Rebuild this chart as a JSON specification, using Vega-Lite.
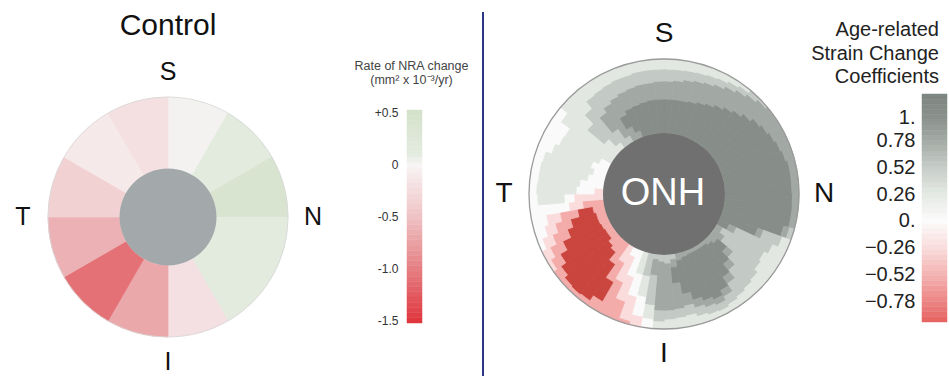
{
"$schema": "https://vega.github.io/schema/vega-lite/v6.json",
"padding": 0,
"background": "#ffffff",
"config": {"view": {"stroke": null}, "font": "Liberation Sans", "text": {"font": "Liberation Sans"}},
"bounds": "flush",
"spacing": 407,
"hconcat": [
{"bounds": "flush", "spacing": 0, "vconcat": [
 {"width": 336, "height": 56, "data": {"values": [{"t": "Control"}]},
  "mark": {"type": "text", "fontSize": 30, "color": "#111111", "baseline": "alphabetic", "dy": 7},
  "encoding": {"text": {"field": "t"}}},
 {"width": 336, "height": 322, "layer": [
  {"data": {"values": [{"a":15,"v":0.02},{"a":45,"v":0.12},{"a":75,"v":0.4},{"a":105,"v":0.13},{"a":135,"v":0.13},{"a":165,"v":-0.2},{"a":195,"v":-0.7},{"a":225,"v":-1.1},{"a":255,"v":-0.63},{"a":285,"v":-0.36},{"a":315,"v":-0.11},{"a":345,"v":-0.21}]},
   "transform": [{"bin": {"step": 30, "extent": [0, 360], "nice": false}, "field": "a", "as": ["a0", "a1"]}],
   "mark": {"type": "arc", "strokeWidth": 0.7},
   "encoding": {
    "theta": {"field": "a0", "type": "quantitative", "stack": null, "scale": {"domain": [0, 360], "range": [0, 6.283185307179586]}},
    "theta2": {"field": "a1"},
    "radius": {"datum": 48.5, "type": "quantitative", "scale": {"type": "linear", "domain": [0, 120], "range": [0, 120], "zero": true, "nice": false}},
    "radius2": {"datum": 120},
    "color": {"field": "v", "type": "quantitative", "legend": null, "scale": {"domain": [-1.5, -1, -0.5, 0, 0.1, 0.5], "range": ["#e0373f", "#e57f83", "#efc3c5", "#f8f4f5", "#e4ebe0", "#d4e2cb"], "interpolate": "rgb"}},
    "stroke": {"field": "v", "type": "quantitative", "legend": null, "scale": {"domain": [-1.5, -1, -0.5, 0, 0.1, 0.5], "range": ["#e0373f", "#e57f83", "#efc3c5", "#f8f4f5", "#e4ebe0", "#d4e2cb"], "interpolate": "rgb"}}
   }},
  {"data": {"values": [{}]},
   "mark": {"type": "arc", "filled": false, "stroke": "#d8d8d8", "strokeWidth": 0.8},
   "encoding": {
    "theta": {"datum": 0, "type": "quantitative", "scale": {"domain": [0, 360], "range": [0, 6.283185307179586]}},
    "theta2": {"datum": 360},
    "radius": {"datum": 120, "type": "quantitative", "scale": {"type": "linear", "domain": [0, 120], "range": [0, 120], "zero": true, "nice": false}}
   }},
  {"data": {"values": [{}]},
   "mark": {"type": "arc", "fill": "#a3a9ab"},
   "encoding": {
    "theta": {"datum": 0, "type": "quantitative", "scale": {"domain": [0, 360], "range": [0, 6.283185307179586]}},
    "theta2": {"datum": 360},
    "radius": {"datum": 48.5, "type": "quantitative", "scale": {"type": "linear", "domain": [0, 120], "range": [0, 120], "zero": true, "nice": false}}
   }},
  {"data": {"values": [{"lab": "S", "ang": 0}, {"lab": "N", "ang": 90}, {"lab": "I", "ang": 180}, {"lab": "T", "ang": 270}]},
   "mark": {"type": "text", "fontSize": 25, "color": "#111111", "align": "center", "baseline": "middle"},
   "encoding": {
    "theta": {"field": "ang", "type": "quantitative", "stack": null, "scale": {"domain": [0, 360], "range": [0, 6.283185307179586]}},
    "radius": {"datum": 145, "type": "quantitative", "scale": {"type": "linear", "domain": [0, 120], "range": [0, 120], "zero": true, "nice": false}},
    "text": {"field": "lab"}
   }}
 ]}
]},
{"bounds": "flush", "spacing": 76, "hconcat": [
 {"bounds": "flush", "spacing": 0, "vconcat": [
  {"width": 15, "height": 110, "data": {"values": [{"t": ["Rate of NRA change", "(mm² x 10⁻³/yr)"]}]},
   "mark": {"type": "text", "fontSize": 12.5, "lineHeight": 14, "color": "#444444", "baseline": "alphabetic", "dy": 15, "dx": -3},
   "encoding": {"text": {"field": "t"}}},
  {"width": 15, "height": 213,
   "data": {"values": [{"v":-1.5},{"v":-1.45},{"v":-1.4},{"v":-1.35},{"v":-1.3},{"v":-1.25},{"v":-1.2},{"v":-1.15},{"v":-1.1},{"v":-1.05},{"v":-1},{"v":-0.95},{"v":-0.9},{"v":-0.85},{"v":-0.8},{"v":-0.75},{"v":-0.7},{"v":-0.65},{"v":-0.6},{"v":-0.55},{"v":-0.5},{"v":-0.45},{"v":-0.4},{"v":-0.35},{"v":-0.3},{"v":-0.25},{"v":-0.2},{"v":-0.15},{"v":-0.1},{"v":-0.05},{"v":0},{"v":0.05},{"v":0.1},{"v":0.15},{"v":0.2},{"v":0.25},{"v":0.3},{"v":0.35},{"v":0.4},{"v":0.45},{"v":0.5}]},
   "transform": [{"bin": {"step": 0.05, "extent": [-1.525, 0.525], "nice": false}, "field": "v", "as": ["v0", "v1"]}],
   "mark": {"type": "rect", "strokeWidth": 0.5},
   "encoding": {
    "y": {"field": "v0", "type": "quantitative", "scale": {"domain": [-1.525, 0.525], "nice": false, "zero": false},
      "axis": {"orient": "left", "values": [0.5, 0, -0.5, -1, -1.5], "ticks": false, "domain": false, "grid": false, "title": null, "labelFontSize": 12, "labelColor": "#333333", "labelPadding": 9, "labelFlush": false, "labelOverlap": false,
        "labelExpr": "datum.value > 0 ? '+' + format(datum.value, '.1f') : (datum.value == 0 ? '0' : '-' + format(-datum.value, '.1f'))"}},
    "y2": {"field": "v1"},
    "color": {"field": "v", "type": "quantitative", "legend": null, "scale": {"domain": [-1.5, -1, -0.5, 0, 0.1, 0.5], "range": ["#e0373f", "#e57f83", "#efc3c5", "#f8f4f5", "#e4ebe0", "#d4e2cb"], "interpolate": "rgb"}},
    "stroke": {"field": "v", "type": "quantitative", "legend": null, "scale": {"domain": [-1.5, -1, -0.5, 0, 0.1, 0.5], "range": ["#e0373f", "#e57f83", "#efc3c5", "#f8f4f5", "#e4ebe0", "#d4e2cb"], "interpolate": "rgb"}}
   }}
 ]},
 {"bounds": "flush", "spacing": 439, "hconcat": [
  {"bounds": "flush", "spacing": 0, "vconcat": [
   {"width": 362, "height": 12, "data": {"values": [{"t": ""}]}, "mark": {"type": "text"}, "encoding": {"text": {"field": "t"}}},
   {"width": 362, "height": 364, "layer": [
    {"data": {"values": [
{"a":2.5,"lo":61,"hi":95,"v":0.9},{"a":2.5,"lo":95,"hi":113,"v":0.65},{"a":2.5,"lo":113,"hi":125,"v":0.39},{"a":2.5,"lo":125,"hi":135,"v":0.13},
{"a":7.5,"lo":61,"hi":95,"v":0.9},{"a":7.5,"lo":95,"hi":114,"v":0.65},{"a":7.5,"lo":114,"hi":125,"v":0.39},{"a":7.5,"lo":125,"hi":135,"v":0.13},
{"a":12.5,"lo":61,"hi":95,"v":0.9},{"a":12.5,"lo":95,"hi":116,"v":0.65},{"a":12.5,"lo":116,"hi":125.5,"v":0.39},{"a":12.5,"lo":125.5,"hi":135,"v":0.13},
{"a":17.5,"lo":61,"hi":96,"v":0.9},{"a":17.5,"lo":96,"hi":117.5,"v":0.65},{"a":17.5,"lo":117.5,"hi":126,"v":0.39},{"a":17.5,"lo":126,"hi":135,"v":0.13},
{"a":22.5,"lo":61,"hi":98,"v":0.9},{"a":22.5,"lo":98,"hi":119,"v":0.65},{"a":22.5,"lo":119,"hi":127,"v":0.39},{"a":22.5,"lo":127,"hi":135,"v":0.13},
{"a":27.5,"lo":61,"hi":100,"v":0.9},{"a":27.5,"lo":100,"hi":121,"v":0.65},{"a":27.5,"lo":121,"hi":128,"v":0.39},{"a":27.5,"lo":128,"hi":135,"v":0.13},
{"a":32.5,"lo":61,"hi":103,"v":0.9},{"a":32.5,"lo":103,"hi":124,"v":0.65},{"a":32.5,"lo":124,"hi":130,"v":0.39},{"a":32.5,"lo":130,"hi":135,"v":0.13},
{"a":37.5,"lo":61,"hi":106,"v":0.9},{"a":37.5,"lo":106,"hi":127,"v":0.65},{"a":37.5,"lo":127,"hi":132,"v":0.39},{"a":37.5,"lo":132,"hi":135,"v":0.13},
{"a":42.5,"lo":61,"hi":109,"v":0.9},{"a":42.5,"lo":109,"hi":130,"v":0.65},{"a":42.5,"lo":130,"hi":135,"v":0.39},
{"a":47.5,"lo":61,"hi":113,"v":0.9},{"a":47.5,"lo":113,"hi":133,"v":0.65},{"a":47.5,"lo":133,"hi":135,"v":0.39},
{"a":52.5,"lo":61,"hi":117,"v":0.9},{"a":52.5,"lo":117,"hi":135,"v":0.65},
{"a":57.5,"lo":61,"hi":119.5,"v":0.9},{"a":57.5,"lo":119.5,"hi":135,"v":0.65},
{"a":62.5,"lo":61,"hi":122,"v":0.9},{"a":62.5,"lo":122,"hi":135,"v":0.65},
{"a":67.5,"lo":61,"hi":124,"v":0.9},{"a":67.5,"lo":124,"hi":135,"v":0.65},
{"a":72.5,"lo":61,"hi":126,"v":0.9},{"a":72.5,"lo":126,"hi":135,"v":0.65},
{"a":77.5,"lo":61,"hi":128,"v":0.9},{"a":77.5,"lo":128,"hi":135,"v":0.65},
{"a":82.5,"lo":61,"hi":128,"v":0.9},{"a":82.5,"lo":128,"hi":135,"v":0.65},
{"a":87.5,"lo":61,"hi":128,"v":0.9},{"a":87.5,"lo":128,"hi":135,"v":0.65},
{"a":92.5,"lo":61,"hi":128.5,"v":0.9},{"a":92.5,"lo":128.5,"hi":135,"v":0.65},
{"a":97.5,"lo":61,"hi":129,"v":0.9},{"a":97.5,"lo":129,"hi":135,"v":0.65},
{"a":102.5,"lo":61,"hi":129,"v":0.9},{"a":102.5,"lo":129,"hi":135,"v":0.65},
{"a":107.5,"lo":61,"hi":124,"v":0.9},{"a":107.5,"lo":124,"hi":130,"v":0.65},{"a":107.5,"lo":130,"hi":135,"v":0.39},
{"a":112.5,"lo":61,"hi":100,"v":0.9},{"a":112.5,"lo":100,"hi":106,"v":0.65},{"a":112.5,"lo":106,"hi":126,"v":0.39},{"a":112.5,"lo":126,"hi":135,"v":0.13},
{"a":117.5,"lo":61,"hi":72,"v":0.9},{"a":117.5,"lo":72,"hi":80,"v":0.65},{"a":117.5,"lo":80,"hi":120,"v":0.39},{"a":117.5,"lo":120,"hi":135,"v":0.13},
{"a":122.5,"lo":61,"hi":68,"v":0.65},{"a":122.5,"lo":68,"hi":116,"v":0.39},{"a":122.5,"lo":116,"hi":135,"v":0.13},
{"a":127.5,"lo":61,"hi":74,"v":0.65},{"a":127.5,"lo":74,"hi":118,"v":0.39},{"a":127.5,"lo":118,"hi":135,"v":0.13},
{"a":132.5,"lo":61,"hi":70,"v":0.65},{"a":132.5,"lo":70,"hi":82,"v":0.9},{"a":132.5,"lo":82,"hi":90,"v":0.65},{"a":132.5,"lo":90,"hi":122,"v":0.39},{"a":132.5,"lo":122,"hi":135,"v":0.13},
{"a":137.5,"lo":61,"hi":67,"v":0.65},{"a":137.5,"lo":67,"hi":92,"v":0.9},{"a":137.5,"lo":92,"hi":100,"v":0.65},{"a":137.5,"lo":100,"hi":124,"v":0.39},{"a":137.5,"lo":124,"hi":135,"v":0.13},
{"a":142.5,"lo":61,"hi":65,"v":0.65},{"a":142.5,"lo":65,"hi":102,"v":0.9},{"a":142.5,"lo":102,"hi":110,"v":0.65},{"a":142.5,"lo":110,"hi":126,"v":0.39},{"a":142.5,"lo":126,"hi":135,"v":0.13},
{"a":147.5,"lo":61,"hi":65,"v":0.65},{"a":147.5,"lo":65,"hi":112,"v":0.9},{"a":147.5,"lo":112,"hi":119,"v":0.65},{"a":147.5,"lo":119,"hi":128,"v":0.39},{"a":147.5,"lo":128,"hi":135,"v":0.13},
{"a":152.5,"lo":61,"hi":65,"v":0.65},{"a":152.5,"lo":65,"hi":117,"v":0.9},{"a":152.5,"lo":117,"hi":123,"v":0.65},{"a":152.5,"lo":123,"hi":130,"v":0.39},{"a":152.5,"lo":130,"hi":135,"v":0.13},
{"a":157.5,"lo":61,"hi":65,"v":0.65},{"a":157.5,"lo":65,"hi":114,"v":0.9},{"a":157.5,"lo":114,"hi":121,"v":0.65},{"a":157.5,"lo":121,"hi":129,"v":0.39},{"a":157.5,"lo":129,"hi":135,"v":0.13},
{"a":162.5,"lo":61,"hi":66,"v":0.65},{"a":162.5,"lo":66,"hi":110,"v":0.9},{"a":162.5,"lo":110,"hi":118,"v":0.65},{"a":162.5,"lo":118,"hi":127,"v":0.39},{"a":162.5,"lo":127,"hi":135,"v":0.13},
{"a":167.5,"lo":61,"hi":68,"v":0.65},{"a":167.5,"lo":68,"hi":102,"v":0.9},{"a":167.5,"lo":102,"hi":114,"v":0.65},{"a":167.5,"lo":114,"hi":124,"v":0.39},{"a":167.5,"lo":124,"hi":135,"v":0.13},
{"a":172.5,"lo":61,"hi":66,"v":0.39},{"a":172.5,"lo":66,"hi":74,"v":0.65},{"a":172.5,"lo":74,"hi":90,"v":0.9},{"a":172.5,"lo":90,"hi":116,"v":0.65},{"a":172.5,"lo":116,"hi":125,"v":0.39},{"a":172.5,"lo":125,"hi":135,"v":0.13},
{"a":177.5,"lo":61,"hi":70,"v":0.39},{"a":177.5,"lo":70,"hi":117,"v":0.65},{"a":177.5,"lo":117,"hi":126,"v":0.39},{"a":177.5,"lo":126,"hi":135,"v":0.13},
{"a":182.5,"lo":61,"hi":68,"v":0.39},{"a":182.5,"lo":68,"hi":117,"v":0.65},{"a":182.5,"lo":117,"hi":128,"v":0.39},{"a":182.5,"lo":128,"hi":135,"v":0.13},
{"a":187.5,"lo":61,"hi":66,"v":0.39},{"a":187.5,"lo":66,"hi":82,"v":0.65},{"a":187.5,"lo":82,"hi":112,"v":0.39},{"a":187.5,"lo":112,"hi":126,"v":0.13},{"a":187.5,"lo":126,"hi":135,"v":-0.13},
{"a":192.5,"lo":61,"hi":84,"v":0.39},{"a":192.5,"lo":84,"hi":105,"v":0.13},{"a":192.5,"lo":105,"hi":125,"v":-0.13},{"a":192.5,"lo":125,"hi":135,"v":-0.39},
{"a":197.5,"lo":61,"hi":84,"v":0.13},{"a":197.5,"lo":84,"hi":107,"v":-0.13},{"a":197.5,"lo":107,"hi":132,"v":-0.39},{"a":197.5,"lo":132,"hi":135,"v":-0.65},
{"a":202.5,"lo":61,"hi":89,"v":-0.13},{"a":202.5,"lo":89,"hi":115,"v":-0.39},{"a":202.5,"lo":115,"hi":135,"v":-0.65},
{"a":207.5,"lo":61,"hi":70,"v":-0.13},{"a":207.5,"lo":70,"hi":98,"v":-0.39},{"a":207.5,"lo":98,"hi":135,"v":-0.65},
{"a":212.5,"lo":61,"hi":80,"v":-0.39},{"a":212.5,"lo":80,"hi":102,"v":-0.65},{"a":212.5,"lo":102,"hi":124,"v":-0.9},{"a":212.5,"lo":124,"hi":135,"v":-0.65},
{"a":217.5,"lo":61,"hi":86,"v":-0.65},{"a":217.5,"lo":86,"hi":130,"v":-0.9},{"a":217.5,"lo":130,"hi":135,"v":-0.65},
{"a":222.5,"lo":61,"hi":76,"v":-0.65},{"a":222.5,"lo":76,"hi":131,"v":-0.9},{"a":222.5,"lo":131,"hi":135,"v":-0.65},
{"a":227.5,"lo":61,"hi":73,"v":-0.65},{"a":227.5,"lo":73,"hi":130,"v":-0.9},{"a":227.5,"lo":130,"hi":135,"v":-0.65},
{"a":232.5,"lo":61,"hi":69,"v":-0.65},{"a":232.5,"lo":69,"hi":126,"v":-0.9},{"a":232.5,"lo":126,"hi":135,"v":-0.65},
{"a":237.5,"lo":61,"hi":69,"v":-0.65},{"a":237.5,"lo":69,"hi":120,"v":-0.9},{"a":237.5,"lo":120,"hi":131,"v":-0.65},{"a":237.5,"lo":131,"hi":135,"v":-0.39},
{"a":242.5,"lo":61,"hi":70,"v":-0.65},{"a":242.5,"lo":70,"hi":112,"v":-0.9},{"a":242.5,"lo":112,"hi":126,"v":-0.65},{"a":242.5,"lo":126,"hi":135,"v":-0.39},
{"a":247.5,"lo":61,"hi":71,"v":-0.65},{"a":247.5,"lo":71,"hi":103,"v":-0.9},{"a":247.5,"lo":103,"hi":119,"v":-0.65},{"a":247.5,"lo":119,"hi":130,"v":-0.39},{"a":247.5,"lo":130,"hi":135,"v":-0.13},
{"a":252.5,"lo":61,"hi":71,"v":-0.65},{"a":252.5,"lo":71,"hi":97,"v":-0.9},{"a":252.5,"lo":97,"hi":113,"v":-0.65},{"a":252.5,"lo":113,"hi":124,"v":-0.39},{"a":252.5,"lo":124,"hi":135,"v":-0.13},
{"a":257.5,"lo":61,"hi":73,"v":-0.65},{"a":257.5,"lo":73,"hi":88,"v":-0.9},{"a":257.5,"lo":88,"hi":106,"v":-0.65},{"a":257.5,"lo":106,"hi":120,"v":-0.39},{"a":257.5,"lo":120,"hi":135,"v":-0.13},
{"a":262.5,"lo":61,"hi":82,"v":-0.65},{"a":262.5,"lo":82,"hi":96,"v":-0.39},{"a":262.5,"lo":96,"hi":135,"v":-0.13},
{"a":267.5,"lo":61,"hi":90,"v":-0.39},{"a":267.5,"lo":90,"hi":100,"v":-0.13},{"a":267.5,"lo":100,"hi":127,"v":0.13},{"a":267.5,"lo":127,"hi":135,"v":-0.13},
{"a":272.5,"lo":61,"hi":70,"v":-0.39},{"a":272.5,"lo":70,"hi":88,"v":-0.13},{"a":272.5,"lo":88,"hi":128,"v":0.13},{"a":272.5,"lo":128,"hi":135,"v":-0.13},
{"a":277.5,"lo":61,"hi":85,"v":-0.13},{"a":277.5,"lo":85,"hi":127,"v":0.13},{"a":277.5,"lo":127,"hi":135,"v":-0.13},
{"a":282.5,"lo":61,"hi":78,"v":-0.13},{"a":282.5,"lo":78,"hi":127,"v":0.13},{"a":282.5,"lo":127,"hi":135,"v":-0.13},
{"a":287.5,"lo":61,"hi":74,"v":-0.13},{"a":287.5,"lo":74,"hi":126,"v":0.13},{"a":287.5,"lo":126,"hi":135,"v":-0.13},
{"a":292.5,"lo":61,"hi":78,"v":-0.13},{"a":292.5,"lo":78,"hi":120,"v":0.13},{"a":292.5,"lo":120,"hi":135,"v":-0.13},
{"a":297.5,"lo":61,"hi":72,"v":-0.13},{"a":297.5,"lo":72,"hi":116,"v":0.13},{"a":297.5,"lo":116,"hi":135,"v":-0.13},
{"a":302.5,"lo":61,"hi":115,"v":0.13},{"a":302.5,"lo":115,"hi":135,"v":-0.13},
{"a":307.5,"lo":61,"hi":126,"v":0.13},{"a":307.5,"lo":126,"hi":135,"v":-0.13},
{"a":312.5,"lo":61,"hi":78,"v":0.13},{"a":312.5,"lo":78,"hi":100,"v":0.39},{"a":312.5,"lo":100,"hi":135,"v":0.13},
{"a":317.5,"lo":61,"hi":68,"v":0.13},{"a":317.5,"lo":68,"hi":112,"v":0.39},{"a":317.5,"lo":112,"hi":135,"v":0.13},
{"a":322.5,"lo":61,"hi":80,"v":0.39},{"a":322.5,"lo":80,"hi":100,"v":0.65},{"a":322.5,"lo":100,"hi":121,"v":0.39},{"a":322.5,"lo":121,"hi":135,"v":0.13},
{"a":327.5,"lo":61,"hi":68,"v":0.39},{"a":327.5,"lo":68,"hi":105,"v":0.65},{"a":327.5,"lo":105,"hi":122,"v":0.39},{"a":327.5,"lo":122,"hi":135,"v":0.13},
{"a":332.5,"lo":61,"hi":75,"v":0.65},{"a":332.5,"lo":75,"hi":88,"v":0.9},{"a":332.5,"lo":88,"hi":108,"v":0.65},{"a":332.5,"lo":108,"hi":123,"v":0.39},{"a":332.5,"lo":123,"hi":135,"v":0.13},
{"a":337.5,"lo":61,"hi":68,"v":0.65},{"a":337.5,"lo":68,"hi":92,"v":0.9},{"a":337.5,"lo":92,"hi":110,"v":0.65},{"a":337.5,"lo":110,"hi":124,"v":0.39},{"a":337.5,"lo":124,"hi":135,"v":0.13},
{"a":342.5,"lo":61,"hi":93,"v":0.9},{"a":342.5,"lo":93,"hi":111,"v":0.65},{"a":342.5,"lo":111,"hi":124,"v":0.39},{"a":342.5,"lo":124,"hi":135,"v":0.13},
{"a":347.5,"lo":61,"hi":94,"v":0.9},{"a":347.5,"lo":94,"hi":112,"v":0.65},{"a":347.5,"lo":112,"hi":125,"v":0.39},{"a":347.5,"lo":125,"hi":135,"v":0.13},
{"a":352.5,"lo":61,"hi":95,"v":0.9},{"a":352.5,"lo":95,"hi":112,"v":0.65},{"a":352.5,"lo":112,"hi":125,"v":0.39},{"a":352.5,"lo":125,"hi":135,"v":0.13},
{"a":357.5,"lo":61,"hi":95,"v":0.9},{"a":357.5,"lo":95,"hi":113,"v":0.65},{"a":357.5,"lo":113,"hi":125,"v":0.39},{"a":357.5,"lo":125,"hi":135,"v":0.13}
     ]},
     "transform": [
      {"bin": {"step": 5, "extent": [0, 360], "nice": false}, "field": "a", "as": ["a0", "a1"]}
     ],
     "mark": {"type": "arc", "strokeWidth": 0.8},
     "encoding": {
      "theta": {"field": "a0", "type": "quantitative", "stack": null, "scale": {"domain": [0, 360], "range": [0, 6.283185307179586]}},
      "theta2": {"field": "a1"},
      "radius": {"field": "lo", "type": "quantitative", "scale": {"type": "linear", "domain": [0, 135], "range": [0, 135], "zero": true, "nice": false}},
      "radius2": {"field": "hi"},
      "color": {"field": "v", "type": "quantitative", "legend": null, "scale": {"type": "threshold", "domain": [-0.78, -0.52, -0.26, 0, 0.26, 0.52, 0.78], "range": ["#c9453e", "#f3acaa", "#fadcdc", "#fafafa", "#e2e7e2", "#c3c9c4", "#a2a9a4", "#878e89"]}},
      "stroke": {"field": "v", "type": "quantitative", "legend": null, "scale": {"type": "threshold", "domain": [-0.78, -0.52, -0.26, 0, 0.26, 0.52, 0.78], "range": ["#c9453e", "#f3acaa", "#fadcdc", "#fafafa", "#e2e7e2", "#c3c9c4", "#a2a9a4", "#878e89"]}}
     }},
    {"data": {"values": [{}]},
     "mark": {"type": "arc", "filled": false, "stroke": "#9a9a9a", "strokeWidth": 1.3},
     "encoding": {
      "theta": {"datum": 0, "type": "quantitative", "scale": {"domain": [0, 360], "range": [0, 6.283185307179586]}},
      "theta2": {"datum": 360},
      "radius": {"datum": 135, "type": "quantitative", "scale": {"type": "linear", "domain": [0, 135], "range": [0, 135], "zero": true, "nice": false}}
     }},
    {"data": {"values": [{}]},
     "mark": {"type": "arc", "fill": "#707070"},
     "encoding": {
      "theta": {"datum": 0, "type": "quantitative", "scale": {"domain": [0, 360], "range": [0, 6.283185307179586]}},
      "theta2": {"datum": 360},
      "radius": {"datum": 61, "type": "quantitative", "scale": {"type": "linear", "domain": [0, 135], "range": [0, 135], "zero": true, "nice": false}}
     }},
    {"data": {"values": [{"t": "ONH"}]},
     "mark": {"type": "text", "fontSize": 38, "color": "#ffffff", "align": "center", "baseline": "middle", "dx": -1},
     "encoding": {"text": {"field": "t"}}},
    {"data": {"values": [{"lab": "S", "ang": 0}, {"lab": "N", "ang": 90}, {"lab": "I", "ang": 180}, {"lab": "T", "ang": 270}]},
     "mark": {"type": "text", "fontSize": 28, "color": "#111111", "align": "center", "baseline": "middle"},
     "encoding": {
      "theta": {"field": "ang", "type": "quantitative", "stack": null, "scale": {"domain": [0, 360], "range": [0, 6.283185307179586]}},
      "radius": {"datum": 160, "type": "quantitative", "scale": {"type": "linear", "domain": [0, 135], "range": [0, 135], "zero": true, "nice": false}},
      "text": {"field": "lab"}
     }},
    {"data": {"values": [{}]},
     "mark": {"type": "rule", "color": "#2c3885", "strokeWidth": 2},
     "encoding": {"x": {"datum": 0, "type": "quantitative", "scale": {"domain": [0, 1]}, "axis": null}}}
   ]}
  ]},
  {"bounds": "flush", "spacing": 0, "vconcat": [
   {"width": 25, "height": 94, "data": {"values": [{"t": ["Age-related", "Strain Change", "Coefficients"]}]},
    "mark": {"type": "text", "fontSize": 20, "lineHeight": 23.5, "color": "#222222", "align": "right", "baseline": "alphabetic", "dy": -11, "dx": 4.5},
    "encoding": {"text": {"field": "t"}}},
   {"width": 25, "height": 228,
    "data": {"values": [{"v":-0.95},{"v":-0.9},{"v":-0.85},{"v":-0.8},{"v":-0.75},{"v":-0.7},{"v":-0.65},{"v":-0.6},{"v":-0.55},{"v":-0.5},{"v":-0.45},{"v":-0.4},{"v":-0.35},{"v":-0.3},{"v":-0.25},{"v":-0.2},{"v":-0.15},{"v":-0.1},{"v":-0.05},{"v":0},{"v":0.05},{"v":0.1},{"v":0.15},{"v":0.2},{"v":0.25},{"v":0.3},{"v":0.35},{"v":0.4},{"v":0.45},{"v":0.5},{"v":0.55},{"v":0.6},{"v":0.65},{"v":0.7},{"v":0.75},{"v":0.8},{"v":0.85},{"v":0.9},{"v":0.95},{"v":1},{"v":1.05},{"v":1.1},{"v":1.15},{"v":1.2}]},
    "transform": [{"bin": {"step": 0.05, "extent": [-0.975, 1.225], "nice": false}, "field": "v", "as": ["v0", "v1"]}],
    "mark": {"type": "rect", "strokeWidth": 0.5},
    "encoding": {
     "y": {"field": "v0", "type": "quantitative", "scale": {"domain": [-0.975, 1.225], "nice": false, "zero": false},
       "axis": {"orient": "left", "values": [1, 0.78, 0.52, 0.26, 0, -0.26, -0.52, -0.78], "ticks": false, "domain": false, "grid": false, "title": null, "labelFontSize": 20, "labelColor": "#222222", "labelPadding": 7, "labelFlush": false, "labelOverlap": false,
         "labelExpr": "datum.value == 1 ? '1.' : (datum.value == 0 ? '0.' : (datum.value < 0 ? '−' + format(-datum.value, '.2f') : format(datum.value, '.2f')))"}},
     "y2": {"field": "v1"},
     "color": {"field": "v", "type": "quantitative", "legend": null, "scale": {"domain": [-0.975, -0.78, -0.52, -0.26, 0, 0.26, 0.52, 0.78, 1.0, 1.225], "range": ["#e5625f", "#ec8583", "#f3b3b2", "#f9dcdc", "#fcfbfb", "#e4e9e4", "#c6ccc7", "#a3aaa5", "#8a918c", "#7d8580"], "interpolate": "rgb"}},
     "stroke": {"field": "v", "type": "quantitative", "legend": null, "scale": {"domain": [-0.975, -0.78, -0.52, -0.26, 0, 0.26, 0.52, 0.78, 1.0, 1.225], "range": ["#e5625f", "#ec8583", "#f3b3b2", "#f9dcdc", "#fcfbfb", "#e4e9e4", "#c6ccc7", "#a3aaa5", "#8a918c", "#7d8580"], "interpolate": "rgb"}}
    }}
  ]}
 ]}
]}
]
}
